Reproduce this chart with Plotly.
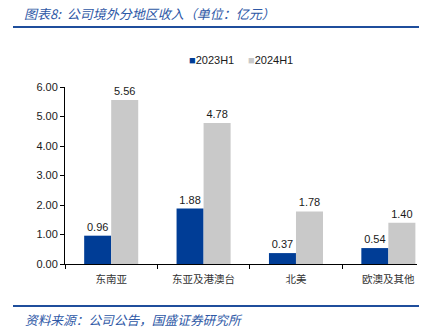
import plotly.graph_objects as go

# Overseas revenue by region, 100 million CNY
regions = ["东南亚", "东亚及港澳台", "北美", "欧澳及其他"]
series_names = ["2023H1", "2024H1"]
rev_2023h1 = [0.96, 1.88, 0.37, 0.54]
rev_2024h1 = [5.56, 4.78, 1.78, 1.40]
y_ticks = [0, 1, 2, 3, 4, 5, 6]

colors = ["#003D96", "#C9C9C9"]
num_font = dict(family="Liberation Sans, Arial, sans-serif", size=11, color="#1a1a1a")
cjk = "Noto Sans CJK SC"
title_blue = "#2E58A6"
rule_blue = "#1F4E9C"

fig = go.Figure()
for name, vals, col in zip(series_names, [rev_2023h1, rev_2024h1], colors):
    fig.add_trace(go.Bar(
        x=regions, y=vals, name=name, marker=dict(color=col, line=dict(width=0)),
        text=[f"{v:.2f}" for v in vals], textposition="outside",
        textfont=num_font, cliponaxis=False, showlegend=False,
    ))

fig.update_layout(
    width=433, height=334,
    margin=dict(l=65, r=16, t=87, b=70),
    paper_bgcolor="white", plot_bgcolor="white",
    barmode="group", bargap=0.415, bargroupgap=0,
    xaxis=dict(
        range=[-0.5, 3.31], showline=True, linecolor="#000000", linewidth=1,
        ticks="outside", tickson="boundaries", ticklen=4, tickcolor="#000000",
        ticklabelstandoff=5,
        tickfont=dict(family=cjk, size=10.5, color="#333333"), showgrid=False,
    ),
    yaxis=dict(
        range=[0, 6], tickvals=y_ticks, tickformat=".2f",
        showline=True, linecolor="#000000", linewidth=1,
        ticks="outside", ticklen=4, tickcolor="#000000",
        tickfont=num_font, showgrid=False, zeroline=False,
    ),
)

# Header title and rule
fig.add_annotation(
    xref="paper", yref="paper", x=(22 - 65) / 352, y=1 + (87 - 14) / 177,
    xanchor="left", yanchor="middle", showarrow=False,
    text="<i>图表8:  公司境外分地区收入（单位：亿元）</i>",
    font=dict(family=cjk, size=13, color=title_blue),
)
fig.add_shape(type="line", xref="paper", yref="paper",
              x0=(13 - 65) / 352, x1=(419 - 65) / 352,
              y0=1 + (87 - 27) / 177, y1=1 + (87 - 27) / 177,
              line=dict(color=rule_blue, width=2))

# Footer rule and source note
fig.add_shape(type="line", xref="paper", yref="paper",
              x0=(13 - 65) / 352, x1=(419 - 65) / 352,
              y0=-(306 - 264) / 177, y1=-(306 - 264) / 177,
              line=dict(color=rule_blue, width=2))
fig.add_annotation(
    xref="paper", yref="paper", x=(23 - 65) / 352, y=-(319 - 264) / 177,
    xanchor="left", yanchor="middle", showarrow=False,
    text="<i>资料来源：公司公告，国盛证券研究所</i>",
    font=dict(family=cjk, size=12.7, color=title_blue),
)

# Legend row
legend_x = [187, 246]
for name, col, lx in zip(series_names, colors, legend_x):
    fig.add_annotation(
        xref="paper", yref="paper", x=(lx - 65) / 352, y=1 + (87 - 60) / 177,
        xanchor="left", yanchor="middle", showarrow=False,
        text=f"<span style='color:{col}'>■</span>{name}",
        font=num_font,
    )

fig.write_html("out.html")
